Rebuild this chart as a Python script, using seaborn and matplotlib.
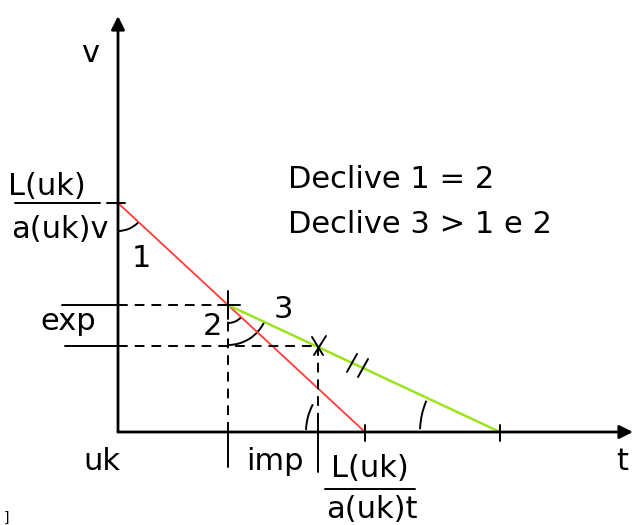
import numpy as np
import pandas as pd
import matplotlib
matplotlib.use("Agg")
import matplotlib.pyplot as plt
from matplotlib.patches import Arc
import seaborn as sns

# Diagram values (t along the horizontal axis, v along the vertical one)
red_t = [0, 247]          # first schedule: L(uk)/a(uk)v down to L(uk)/a(uk)t
red_v = [229, 0]
green_t = [110, 382]      # second, flatter schedule starting at the crossing
green_v = [127, 0]
exp_v = 127               # export level
imp_t = 200               # import point on the flat schedule
imp_v = 86

info_lines = ["Declive 1 = 2", "Declive 3 > 1 e 2"]

sns.set_style("white")
plt.rcParams["font.family"] = ["DejaVu Sans"]

fig = plt.figure(figsize=(6.33, 5.25), dpi=100)
ax = fig.add_axes([0, 0, 1, 1])
ax.set_xlim(-118, 515)
ax.set_ylim(-93, 432)
ax.axis("off")


def px(x, y):
    """Canvas position -> axis position."""
    return x - 118, 432 - y


df_red = pd.DataFrame({"t": red_t, "v": red_v})
df_green = pd.DataFrame({"t": green_t, "v": green_v})
sns.lineplot(data=df_red, x="t", y="v", ax=ax, color="#ff3b3b", lw=1.3, legend=False)
sns.lineplot(data=df_green, x="t", y="v", ax=ax, color="#9be31c", lw=1.8, legend=False)

# Axes with arrow heads
ax.annotate("", xy=(515, 0), xytext=(0, 0),
            arrowprops=dict(arrowstyle="-|>,head_length=0.8,head_width=0.4",
                            color="black", lw=2.0, shrinkA=0, shrinkB=0))
ax.annotate("", xy=(0, 416), xytext=(0, 0),
            arrowprops=dict(arrowstyle="-|>,head_length=0.8,head_width=0.4",
                            color="black", lw=2.0, shrinkA=0, shrinkB=0))

dash = (0, (5, 3.6))
k = dict(color="black", lw=1.4)
# Guide lines to the crossing point and to the import point
ax.plot([-56, 0], [exp_v, exp_v], **k)
ax.plot([0, green_t[0]], [exp_v, exp_v], linestyle=dash, **k)
ax.plot([-53, 0], [imp_v, imp_v], **k)
ax.plot([0, imp_t], [imp_v, imp_v], linestyle=dash, **k)
ax.plot([green_t[0], green_t[0]], [exp_v, 0], linestyle=dash, **k)
ax.plot([imp_t, imp_t], [imp_v, 12], linestyle=dash, **k)

# Tick marks
ax.plot([-11, 7], [red_v[0], red_v[0]], **k)
ax.plot([green_t[0], green_t[0]], [0, -35], **k)
ax.plot([imp_t, imp_t], [12, -40], **k)
ax.plot([red_t[1], red_t[1]], [7, -9], **k)
ax.plot([green_t[1], green_t[1]], [7, -9], **k)
ax.plot([green_t[0] - 10, green_t[0] + 12], [exp_v, exp_v], **k)
ax.plot([green_t[0], green_t[0]], [exp_v + 14, exp_v - 14], **k)

# Cross on the import point and double hash on the flat schedule
ax.plot([imp_t - 6, imp_t + 5], [imp_v + 9, imp_v - 9], **k)
ax.plot([imp_t - 4, imp_t + 8], [imp_v - 9, imp_v + 10], **k)
for tc in (234, 245):
    vc = green_v[0] + (tc - green_t[0]) * (green_v[1] - green_v[0]) / (green_t[1] - green_t[0])
    ax.plot([tc - 5, tc + 5], [vc - 9, vc + 9], **k)

# Angle marks
ang_red = np.degrees(np.arctan2(red_v[1] - red_v[0], red_t[1] - red_t[0])) % 360
ang_green = np.degrees(np.arctan2(green_v[1] - green_v[0], green_t[1] - green_t[0])) % 360
arc_kw = dict(color="black", lw=1.4)
ax.add_patch(Arc((0, red_v[0]), 56, 56, theta1=270, theta2=ang_red, **arc_kw))
ax.add_patch(Arc((green_t[0], exp_v), 36, 36, theta1=270, theta2=ang_red, **arc_kw))
ax.add_patch(Arc((green_t[0], exp_v), 80, 80, theta1=270, theta2=ang_green, **arc_kw))
ax.add_patch(Arc((red_t[1], 0), 118, 118, theta1=152, theta2=178, **arc_kw))
ax.add_patch(Arc((green_t[1], 0), 160, 160, theta1=157, theta2=178, **arc_kw))

fs = 22
fl = 22


def txt(x, y, s, size=fl, ha="left", va="baseline"):
    ax.text(*px(x, y), s, fontsize=size, ha=ha, va=va, color="black")


txt(90, 62, "v", ha="center")
txt(622, 470, "t", ha="center")
txt(102, 470, "uk", ha="center")
txt(275, 470, "imp", ha="center")
txt(68, 330, "exp", ha="center")
txt(141, 267, "1", size=fs, ha="center")
txt(212, 335, "2", size=fs, ha="center")
txt(283, 318, "3", size=fs, ha="center")

# Intercept fractions
txt(47, 195, "L(uk)", ha="center")
ax.plot([-103, -18], [432 - 203, 432 - 203], **k)
txt(60, 238, "a(uk)v", ha="center")
txt(370, 477, "L(uk)", ha="center")
ax.plot([325 - 118, 415 - 118], [432 - 489, 432 - 489], **k)
txt(372, 518, "a(uk)t", ha="center")

txt(288, 188, info_lines[0], size=fs)
txt(288, 233, info_lines[1], size=fs)

txt(6, 522, "]", size=10, ha="center")

fig.savefig("out.png", dpi=100)
